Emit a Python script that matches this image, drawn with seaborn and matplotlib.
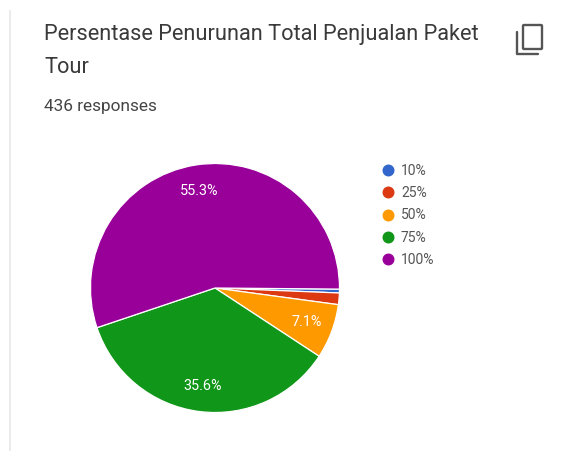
import matplotlib
matplotlib.use("Agg")
import matplotlib.pyplot as plt
from matplotlib.lines import Line2D
from matplotlib.patches import FancyBboxPatch, Rectangle
import seaborn as sns

categories = ["10%", "25%", "50%", "75%", "100%"]
shares = [0.5, 1.5, 7.1, 35.6, 55.3]
colors = ["#3366cc", "#dc3912", "#ff9900", "#109618", "#990099"]
title_lines = ["Persentase Penurunan Total Penjualan Paket", "Tour"]
subtitle = "436 responses"

sns.set_theme(style="white", palette=colors)
plt.rcParams["font.family"] = ["Roboto", "DejaVu Sans"]

W, H = 568, 451
fig = plt.figure(figsize=(W / 100, H / 100), dpi=100, facecolor="white")


def px_x(x):
    return x / W


def px_y(y):
    return 1 - y / H


# Card edge on the left
fig.add_artist(Rectangle((px_x(9), 0), 2 / W, px_y(10), transform=fig.transFigure,
                         facecolor="#ebebeb", edgecolor="none"))

# Heading block
fig.text(px_x(44), px_y(34.5), title_lines[0], fontsize=15.7, color="#3a3a3a", va="center")
fig.text(px_x(44), px_y(67.5), title_lines[1], fontsize=15.7, color="#3a3a3a", va="center")
fig.text(px_x(44), px_y(106.5), subtitle, fontsize=12.4, color="#444444", va="center")

# Copy icon: front sheet and the corner of the sheet behind it
fig.add_artist(FancyBboxPatch((px_x(523), px_y(49)), 19 / W, 24 / H, transform=fig.transFigure,
                              boxstyle="round,pad=0,rounding_size=0.002",
                              facecolor="none", edgecolor="#555555", linewidth=1.7))
fig.add_artist(Line2D([px_x(517), px_x(517), px_x(538)],
                      [px_y(32), px_y(54), px_y(54)], transform=fig.transFigure,
                      color="#555555", linewidth=1.7))

# Pie, drawn clockwise from the east
cx, cy, r = 215, 288, 124.5
ax = fig.add_axes([px_x(cx - r), px_y(cy + r), 2 * r / W, 2 * r / H])


def share_label(pct):
    return f"{pct:.1f}%" if pct >= 5 else ""


wedges, _, autotexts = ax.pie(
    shares,
    colors=sns.color_palette(colors),
    startangle=-0.5,
    counterclock=False,
    radius=1,
    autopct=share_label,
    pctdistance=0.79,
    wedgeprops={"edgecolor": "white", "linewidth": 0.9},
    textprops={"color": "white", "fontsize": 10.4},
)
ax.set_xlim(-1, 1)
ax.set_ylim(-1, 1)
ax.set_aspect("equal")
for wedge in wedges:
    wedge.set_clip_on(False)

# Legend with round keys
handles = [Line2D([], [], linestyle="none", marker="o", markersize=7.6, color=c) for c in colors]
fig.legend(
    handles,
    categories,
    loc="upper left",
    bbox_to_anchor=(px_x(369), px_y(158.5)),
    frameon=False,
    fontsize=10,
    labelcolor="#555555",
    labelspacing=0.59,
    handletextpad=-0.1,
    handlelength=2,
    borderpad=0.4,
    borderaxespad=0,
)

fig.savefig("out.png", dpi=100)
